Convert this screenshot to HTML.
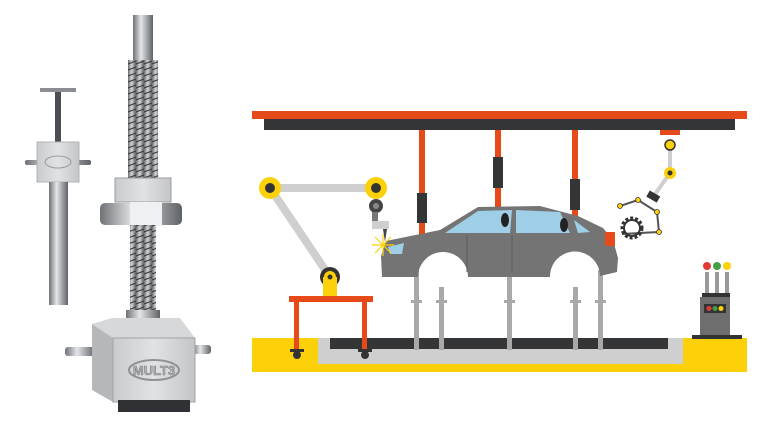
<!DOCTYPE html>
<html><head><meta charset="utf-8"><style>html,body{margin:0;padding:0;background:#fff}svg{display:block}</style></head>
<body>
<svg width="781" height="434" viewBox="0 0 781 434" xmlns="http://www.w3.org/2000/svg">
<defs>
<linearGradient id="rod" x1="0" x2="1"><stop offset="0" stop-color="#6e7276"/><stop offset=".4" stop-color="#e4e6e8"/><stop offset="1" stop-color="#5e6266"/></linearGradient>
<linearGradient id="thr" x1="0" x2="1"><stop offset="0" stop-color="#6a6d70"/><stop offset=".45" stop-color="#d4d6d8"/><stop offset="1" stop-color="#5a5d60"/></linearGradient>
<pattern id="th" width="8" height="6" patternUnits="userSpaceOnUse"><rect width="8" height="6" fill="url(#thr)"/><path d="M0 4 L8 1" stroke="#3a3c3f" stroke-width="1.1"/></pattern>
<linearGradient id="box" x1="0" x2="1"><stop offset="0" stop-color="#c9cbcd"/><stop offset=".5" stop-color="#e1e2e3"/><stop offset="1" stop-color="#c3c5c7"/></linearGradient>
</defs>

<!-- small jack -->
<rect x="40" y="88" width="36" height="4" fill="#8a8e92"/>
<rect x="55" y="92" width="6" height="50" fill="#4b4e52"/>
<rect x="25" y="160" width="66" height="5" rx="2" fill="url(#rod)"/>
<rect x="37" y="142" width="42" height="40" fill="url(#box)" stroke="#b0b3b6"/>
<ellipse cx="58" cy="162" rx="13" ry="6" fill="none" stroke="#9a9da0"/>
<rect x="49" y="182" width="19" height="123" fill="url(#rod)"/>

<!-- big jack -->
<rect x="133" y="15" width="20" height="48" fill="url(#rod)"/>
<rect x="128" y="60" width="30" height="122" fill="url(#th)"/>
<rect x="115" y="178" width="56" height="24" fill="url(#box)" stroke="#9a9da0"/>
<rect x="100" y="203" width="82" height="22" rx="5" fill="url(#rod)"/>
<rect x="130" y="202" width="32" height="24" fill="#eef0f1"/>
<rect x="130" y="225" width="26" height="90" fill="url(#th)"/>
<rect x="126" y="310" width="34" height="22" fill="url(#rod)"/>
<rect x="65" y="347" width="30" height="9" rx="3" fill="url(#rod)"/>
<rect x="193" y="345" width="18" height="9" rx="3" fill="url(#rod)"/>
<polygon points="92,324 112,318 180,318 195,338 113,338" fill="#d6d8da"/>
<polygon points="92,324 113,338 113,402 92,390" fill="#b5b8bb"/>
<rect x="113" y="338" width="82" height="64" fill="url(#box)" stroke="#a0a3a6"/>
<ellipse cx="154" cy="370" rx="25" ry="10" fill="none" stroke="#8f9295" stroke-width="2"/>
<text x="154" y="375" font-family="Liberation Sans, sans-serif" font-size="13" font-weight="bold" fill="#b0b3b6" stroke="#7f8285" stroke-width=".6" text-anchor="middle">MULT3</text>
<rect x="118" y="400" width="72" height="12" fill="#2f3134"/>

<!-- right scene -->
<rect x="252" y="111" width="495" height="8" fill="#e64a19"/>
<rect x="264" y="119" width="471" height="11" fill="#333537"/>
<rect x="419" y="130" width="6" height="108" fill="#e64a19"/>
<rect x="417" y="193" width="10" height="30" fill="#333537"/>
<rect x="495" y="130" width="6" height="80" fill="#e64a19"/>
<rect x="493" y="157" width="10" height="31" fill="#333537"/>
<rect x="572" y="130" width="6" height="100" fill="#e64a19"/>
<rect x="570" y="179" width="10" height="31" fill="#333537"/>

<!-- floor -->
<rect x="252" y="338" width="495" height="34" fill="#fdd10a"/>
<rect x="318" y="338" width="365" height="26" fill="#cfcfcf"/>
<rect x="330" y="338" width="338" height="11" fill="#333537"/>

<!-- car supports -->
<g fill="#a9a9a9">
<rect x="414" y="270" width="5" height="80"/><rect x="411" y="300" width="11" height="3"/>
<rect x="439" y="287" width="5" height="63"/><rect x="436" y="300" width="11" height="3"/>
<rect x="507" y="270" width="5" height="80"/><rect x="504" y="300" width="11" height="3"/>
<rect x="573" y="287" width="5" height="63"/><rect x="570" y="300" width="11" height="3"/>
<rect x="598" y="270" width="5" height="80"/><rect x="595" y="300" width="11" height="3"/>
</g>

<!-- car -->
<path d="M382 277 L381 256 L386 241 L440 230 L478 207 L540 206 L578 216 L603 228 L613 240 L618 258 L617 272 L600 276 A25 25 0 0 0 550 277 L468 277 A25 25 0 0 0 418 277 Z" fill="#747474"/>
<polygon points="445,233 478,211 512,210 510,233" fill="#9ecfe6"/>
<polygon points="516,210 560,212 570,233 516,233" fill="#9ecfe6"/>
<polygon points="574,220 590,232 578,233" fill="#9ecfe6"/>
<ellipse cx="505" cy="220" rx="4" ry="7" fill="#222"/>
<ellipse cx="564" cy="225" rx="4" ry="7" fill="#222"/>
<polygon points="388,247 404,243 402,254 390,254" fill="#9ecfe6"/>
<rect x="605" y="232" width="10" height="14" fill="#e64a19"/>
<line x1="467" y1="235" x2="467" y2="272" stroke="#5d5d5d"/>
<line x1="512" y1="235" x2="512" y2="272" stroke="#5d5d5d"/>

<!-- left robot -->
<line x1="270" y1="188" x2="376" y2="188" stroke="#cfcfcf" stroke-width="8"/>
<line x1="270" y1="188" x2="330" y2="277" stroke="#cfcfcf" stroke-width="8"/>
<circle cx="270" cy="188" r="11" fill="#fdd10a"/><circle cx="270" cy="188" r="5" fill="#333"/>
<circle cx="376" cy="188" r="11" fill="#fdd10a"/><circle cx="376" cy="188" r="5" fill="#333"/>
<circle cx="376" cy="206" r="7" fill="#444"/><circle cx="376" cy="206" r="3" fill="#888"/>
<rect x="372" y="212" width="6" height="10" fill="#777"/>
<rect x="372" y="221" width="17" height="8" fill="#cfcfcf"/>
<polygon points="383,229 387,229 385,242" fill="#444"/>
<g stroke="#fdd10a" stroke-width="1.2"><line x1="372" y1="245" x2="394" y2="245"/><line x1="383" y1="234" x2="383" y2="256"/><line x1="375" y1="237" x2="391" y2="253"/><line x1="391" y1="237" x2="375" y2="253"/></g>
<circle cx="330" cy="277" r="10" fill="#333"/>
<rect x="323" y="277" width="14" height="20" fill="#fdd10a"/>
<circle cx="330" cy="277" r="6" fill="#fdd10a"/><circle cx="330" cy="277" r="2.5" fill="#333"/>
<rect x="289" y="296" width="84" height="6" fill="#e64a19"/>
<rect x="294" y="302" width="5" height="48" fill="#e64a19"/>
<rect x="362" y="302" width="5" height="48" fill="#e64a19"/>
<rect x="290" y="349" width="14" height="3" fill="#333"/><circle cx="297" cy="355" r="4" fill="#333"/>
<rect x="358" y="349" width="14" height="3" fill="#333"/><circle cx="365" cy="355" r="4" fill="#333"/>

<!-- right robot -->
<rect x="660" y="130" width="20" height="5" fill="#e64a19"/>
<line x1="670" y1="145" x2="670" y2="173" stroke="#cfcfcf" stroke-width="4"/>
<line x1="670" y1="173" x2="653" y2="197" stroke="#cfcfcf" stroke-width="4"/>
<circle cx="670" cy="145" r="5" fill="#fdd10a" stroke="#333" stroke-width="1.5"/>
<circle cx="670" cy="173" r="6" fill="#fdd10a"/><circle cx="670" cy="173" r="2.5" fill="#333"/>
<rect x="647" y="193" width="12" height="7" fill="#333" transform="rotate(30 653 197)"/>
<polyline points="620,206 638,200 657,212 659,232 622,234" fill="none" stroke="#555" stroke-width="2"/>
<g fill="#fdd10a" stroke="#333" stroke-width=".8"><circle cx="620" cy="206" r="2.5"/><circle cx="638" cy="200" r="2.5"/><circle cx="657" cy="212" r="2.5"/><circle cx="659" cy="232" r="2.5"/></g>
<circle cx="632" cy="228" r="10" fill="none" stroke="#333" stroke-width="3" stroke-dasharray="3 2"/>
<circle cx="632" cy="228" r="8" fill="none" stroke="#333" stroke-width="2"/>

<!-- control box -->
<g fill="#999"><rect x="705" y="272" width="4" height="22"/><rect x="715" y="272" width="4" height="22"/><rect x="725" y="272" width="4" height="22"/></g>
<circle cx="707" cy="266" r="4" fill="#e53935"/><circle cx="717" cy="266" r="4" fill="#43a047"/><circle cx="727" cy="266" r="4" fill="#fdd10a"/>
<rect x="702" y="293" width="28" height="4" fill="#333"/>
<rect x="700" y="297" width="30" height="40" fill="#6e6e6e"/>
<rect x="704" y="304" width="22" height="9" fill="#333"/>
<circle cx="709" cy="308.5" r="2.5" fill="#e53935"/><circle cx="715" cy="308.5" r="2.5" fill="#43a047"/><circle cx="721" cy="308.5" r="2.5" fill="#fdd10a"/>
<rect x="692" y="335" width="50" height="4" fill="#333"/>
</svg>
</body></html>
